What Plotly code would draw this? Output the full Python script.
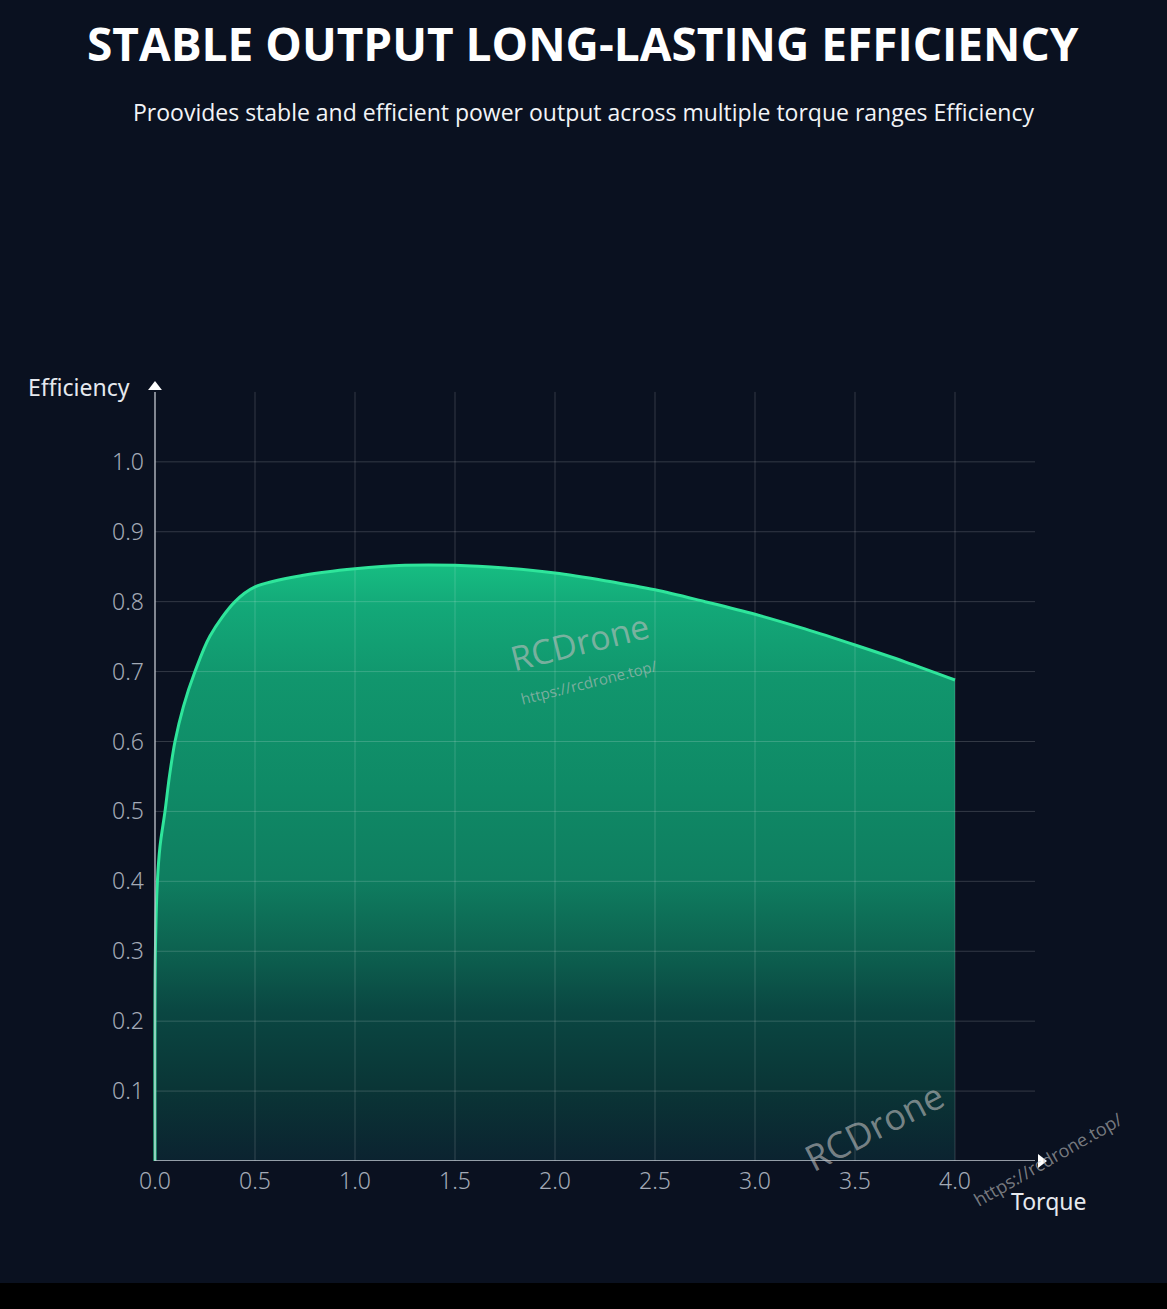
import plotly.graph_objects as go

# ---------------- data ----------------
torque = [0.0, 0.002, 0.012, 0.025, 0.05, 0.072, 0.1, 0.142, 0.2, 0.275, 0.4, 0.5,
          0.75, 1.0, 1.25, 1.5, 1.75, 2.0, 2.25, 2.5, 2.75, 3.0, 3.25, 3.5, 3.75, 4.0]
efficiency = [0.0, 0.3, 0.4, 0.45, 0.5, 0.55, 0.6, 0.65, 0.7, 0.751, 0.8, 0.821,
              0.838, 0.847, 0.852, 0.852, 0.848, 0.841, 0.83, 0.817, 0.8, 0.782,
              0.761, 0.738, 0.714, 0.688]
x_ticks = [0.0, 0.5, 1.0, 1.5, 2.0, 2.5, 3.0, 3.5, 4.0]
x_tick_labels = ["0.0", "0.5", "1.0", "1.5", "2.0", "2.5", "3.0", "3.5", "4.0"]
y_ticks = [0.1, 0.2, 0.3, 0.4, 0.5, 0.6, 0.7, 0.8, 0.9, 1.0]
y_tick_labels = ["0.1", "0.2", "0.3", "0.4", "0.5", "0.6", "0.7", "0.8", "0.9", "1.0"]

title_text = "STABLE OUTPUT LONG-LASTING EFFICIENCY"
subtitle_text = "Proovides stable and efficient power output across multiple torque ranges Efficiency"
x_title = "Torque"
y_title = "Efficiency"

# ---------------- layout geometry ----------------
W, H = 1167, 1309
L, R, T, B = 151, 92, 322, 148
PW, PH = W - L - R, H - T - B
X_RANGE = [-0.02, 4.6]
Y_RANGE = [0.0, 1.2]

def px_x(px):
    return (px - L) / PW

def px_y(py):
    return (H - B - py) / PH

BG = "#0a1120"
GRID = "rgba(255,255,255,0.17)"
AXIS = "#c3c8d0"
TICK = "#a3aab6"
LINE = "#2fe59b"

grid_top = y_ticks[-1] + 0.1
grid_right = x_ticks[-1] + 0.4

fig = go.Figure()

# gradient fill
fig.add_trace(go.Scatter(
    x=torque, y=efficiency, mode="lines", line=dict(width=0, shape="spline", smoothing=0.9),
    fill="tozeroy",
    fillgradient=dict(
        type="vertical", start=0.0, stop=0.86,
        colorscale=[[0.0, "#0b2330"], [0.12, "#0a3536"], [0.25, "#0a4742"],
                    [0.36, "#0d6451"], [0.47, "#0f7e60"], [0.62, "#0f8a66"],
                    [0.8, "#11966d"], [0.92, "#13a878"], [1.0, "#17c083"]]),
    hoverinfo="skip", showlegend=False))

# gridlines (drawn above fill)
gx, gy = [], []
for v in x_ticks[1:]:
    gx += [v, v, None]
    gy += [0, grid_top, None]
for v in y_ticks:
    gx += [0, grid_right, None]
    gy += [v, v, None]
fig.add_trace(go.Scatter(x=gx, y=gy, mode="lines", line=dict(color=GRID, width=1),
                         hoverinfo="skip", showlegend=False))

# curve line
fig.add_trace(go.Scatter(x=torque, y=efficiency, mode="lines",
                         line=dict(color=LINE, width=3, shape="spline", smoothing=0.9),
                         hoverinfo="skip", showlegend=False))

# axis lines with arrows
fig.add_trace(go.Scatter(x=[0, 0, None, 0, grid_right], y=[grid_top, 0, None, 0, 0],
                         mode="lines", line=dict(color=AXIS, width=1.3),
                         hoverinfo="skip", showlegend=False))
fig.add_trace(go.Scatter(x=[0, grid_right + 0.03], y=[grid_top + 0.007, 0], mode="markers",
                         marker=dict(symbol=["triangle-up", "triangle-right"], size=12,
                                     color="white", line=dict(width=0)),
                         cliponaxis=False, hoverinfo="skip", showlegend=False))

fig.update_xaxes(range=X_RANGE, showgrid=False, zeroline=False, showline=False,
                 tickvals=x_ticks, ticktext=x_tick_labels, ticks="",
                 ticklabelstandoff=4,
                 tickfont=dict(family="Noto Sans", size=23, color=TICK, weight=300))
fig.update_yaxes(range=Y_RANGE, showgrid=False, zeroline=False, showline=False,
                 tickvals=y_ticks, ticktext=y_tick_labels, ticks="",
                 ticklabelstandoff=6,
                 tickfont=dict(family="Noto Sans", size=23, color=TICK, weight=300))

def label(text, cx, cy, size, color, family="Noto Sans", angle=0):
    return dict(text=text, x=px_x(cx), y=px_y(cy), xref="paper", yref="paper",
                xanchor="center", yanchor="middle", showarrow=False, textangle=angle,
                font=dict(family=family, size=size, color=color))

wm = "rgba(190,190,190,0.62)"
ann = [
    label(f"<b>{title_text}</b>", 583, 43, 46, "white", "Open Sans"),
    label(subtitle_text, 583, 112, 23, "#f2f4f7", "Open Sans"),
    label(y_title, 79, 387, 23, "#e6e9ee"),
    label(x_title, 1048, 1201, 23, "#e6e9ee"),
    label("RCDrone", 579, 642, 34, wm, "Open Sans", -14),
    label("https://rcdrone.top/", 589, 682, 15, wm, "Open Sans", -14),
    label("RCDrone", 874, 1126, 36, wm, "Open Sans", -27),
    label("https://rcdrone.top/", 1048, 1159, 18, wm, "Open Sans", -30),
]

fig.update_layout(
    width=W, height=H, autosize=False,
    margin=dict(l=L, r=R, t=T, b=B, pad=0),
    paper_bgcolor=BG, plot_bgcolor=BG,
    annotations=ann,
    shapes=[dict(type="rect", xref="paper", yref="paper", x0=px_x(-5), x1=px_x(W + 5),
                 y0=px_y(1283), y1=px_y(H + 5), fillcolor="black", line=dict(width=0),
                 layer="above")],
    showlegend=False,
    hovermode=False,
)

fig.write_html("out.html", config={"displayModeBar": False, "staticPlot": True},
               post_script="document.body.style.margin='0';document.body.style.overflow='hidden';document.body.style.background='#0a1120';")
